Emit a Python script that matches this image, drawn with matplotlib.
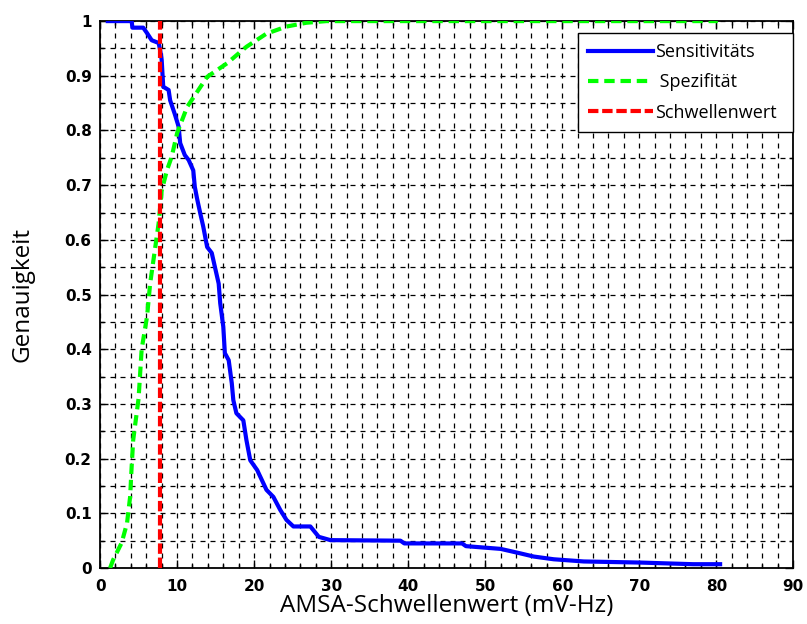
############################################
###  ROC-style threshold plot (Sensitivitaet / Spezifitaet vs. AMSA)
############################################

import numpy as np
from matplotlib import pyplot as plt
from matplotlib.ticker import MultipleLocator

## values
sens_x = [1.0, 4.1, 4.2, 5.6, 6.1, 6.7, 7.6, 7.8, 8.0, 8.2, 8.9, 9.1, 9.7, 10.2,
          10.4, 11.0, 11.5, 12.1, 12.3, 12.6, 13.0, 13.4, 13.9, 14.5, 14.9, 15.4,
          15.6, 16.0, 16.2, 16.7, 17.1, 17.3, 17.7, 18.6, 19.0, 19.5, 20.4, 21.0,
          21.6, 22.5, 23.4, 24.2, 25.1, 27.3, 28.4, 29.9, 39.0, 39.5, 47.0, 47.5,
          52.0, 54.5, 56.3, 58.9, 62.8, 70.1, 77.0, 80.5]
sens_y = [1.0, 1.0, 0.988, 0.988, 0.978, 0.965, 0.96, 0.947, 0.929, 0.88, 0.874,
          0.855, 0.83, 0.807, 0.777, 0.755, 0.746, 0.727, 0.697, 0.675, 0.649,
          0.624, 0.587, 0.576, 0.551, 0.52, 0.484, 0.441, 0.393, 0.38, 0.338,
          0.307, 0.283, 0.27, 0.234, 0.197, 0.179, 0.161, 0.143, 0.13, 0.106,
          0.088, 0.076, 0.076, 0.057, 0.051, 0.05, 0.045, 0.045, 0.04, 0.035,
          0.027, 0.021, 0.016, 0.012, 0.01, 0.007, 0.007]

spez_x = [1.3, 1.7, 2.8, 3.5, 3.9, 4.1, 4.3, 5.0, 5.4, 6.1, 6.5, 7.1, 7.6, 8.0,
          8.7, 9.3, 10.0, 11.3, 13.9, 16.5, 19.0, 21.6, 24.2, 26.8, 29.4, 80.2]
spez_y = [0.0, 0.015, 0.046, 0.082, 0.13, 0.185, 0.234, 0.31, 0.4, 0.46, 0.52,
          0.58, 0.63, 0.69, 0.728, 0.752, 0.795, 0.843, 0.898, 0.923, 0.953,
          0.977, 0.99, 0.997, 1.0, 1.0]

schwelle = 7.8   ### chosen threshold (mV-Hz)

labels = ["Sensitivitäts", " Spezifität", "Schwellenwert"]

######################
### Create the plot
######################

plt.rcdefaults()
fig = plt.figure(figsize=(8.07, 6.24), dpi=100)
ax = fig.add_axes([0.124, 0.0897, 0.859, 0.8765])

ax.plot(sens_x, sens_y, "-", color="#0000ff", linewidth=3, label=labels[0], zorder=3)
ax.plot(spez_x, spez_y, "--", color="#00ff00", linewidth=3, dashes=(2.5, 1.4),
        label=labels[1], zorder=3)
ax.plot([schwelle, schwelle], [0, 1], "--", color="#ff0000", linewidth=3,
        dashes=(2.5, 0.9), label=labels[2], zorder=4)

######################
### Axes, ticks and grid (MATLAB-like look)
######################

ax.set_xlim(0, 90)
ax.set_ylim(0, 1)
ax.xaxis.set_major_locator(MultipleLocator(10))
ax.xaxis.set_minor_locator(MultipleLocator(2))
ax.yaxis.set_major_locator(MultipleLocator(0.1))
ax.yaxis.set_minor_locator(MultipleLocator(0.05))
ax.set_yticks(np.arange(0, 1.01, 0.1))
ax.set_yticklabels(["0", "0.1", "0.2", "0.3", "0.4", "0.5", "0.6", "0.7", "0.8", "0.9", "1"])

ax.grid(which="both", color="black", linestyle=(0, (4, 4)), linewidth=0.9)
ax.tick_params(which="both", direction="in", top=True, right=True,
               labelsize=11, width=1)
ax.tick_params(axis="x", pad=8)
ax.tick_params(axis="y", pad=6)
ax.tick_params(which="major", length=6)
ax.tick_params(which="minor", length=3)
for lab in ax.get_xticklabels() + ax.get_yticklabels():
    lab.set_fontweight("bold")
for sp in ax.spines.values():
    sp.set_linewidth(1.3)

ax.set_xlabel("AMSA-Schwellenwert (mV-Hz)", fontsize=17.5, family="Open Sans", labelpad=0)
ax.set_ylabel("Genauigkeit", fontsize=17.5, family="Open Sans", labelpad=22)

leg = ax.legend(loc="upper left", bbox_to_anchor=(0.69, 0.978, 0.309, 0.0),
                mode="expand", fancybox=False, framealpha=1, edgecolor="black",
                prop={"family": "Open Sans", "size": 13}, handlelength=3.6,
                handletextpad=0.1, labelspacing=0.68, borderaxespad=0,
                borderpad=0.55)
leg.get_frame().set_linewidth(1)

plt.savefig("out.png", dpi=100)
